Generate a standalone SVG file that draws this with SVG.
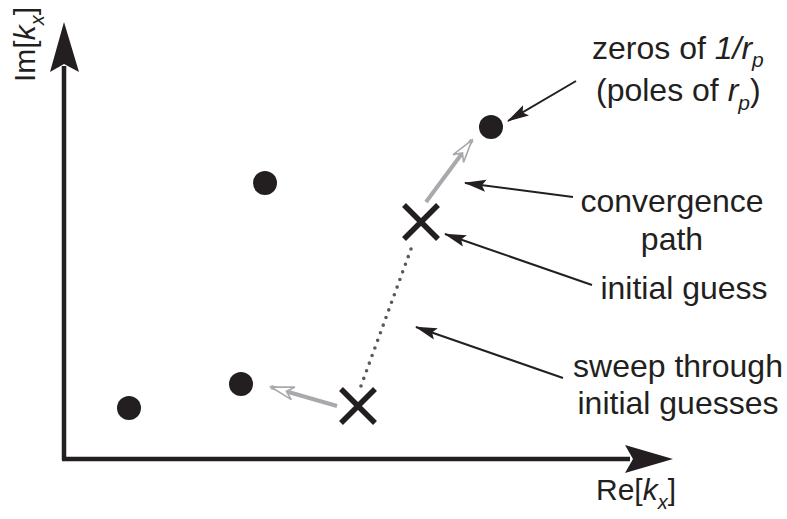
<svg xmlns="http://www.w3.org/2000/svg" width="787" height="519" viewBox="0 0 787 519">
<style>
text{font-family:"Liberation Sans",Arial,Helvetica,sans-serif;fill:#231f20}
.lbl{font-size:32px}
.ax{font-size:30px}
.it{font-style:italic}
.axis{stroke:#231f20;stroke-width:4.5;fill:none}
.ann{stroke:#231f20;stroke-width:2;fill:none}
.conv{stroke:#a7a9ac;stroke-width:4;fill:none}
.xm{stroke:#231f20;stroke-width:5.5;fill:none}
.dot{fill:#231f20}
</style>
<defs>
<marker id="ah" markerUnits="userSpaceOnUse" viewBox="0 0 22 14" refX="21" refY="7" markerWidth="22" markerHeight="14" orient="auto">
<path d="M0,1 L22,7 L0,13 L4,7 Z" fill="#231f20"/>
</marker>
<marker id="gh" markerUnits="userSpaceOnUse" viewBox="0 0 26 16" refX="24" refY="8" markerWidth="26" markerHeight="16" orient="auto">
<path d="M1,1.5 L24,8 L1,14.5 L8,8 Z" fill="#ffffff" stroke="#a7a9ac" stroke-width="1.6"/>
</marker>
</defs>
<g id="axes">
<line class="axis" x1="64" y1="460" x2="64" y2="66"/>
<path d="M64,22 L79,72 L64,64 L50,72 Z" fill="#231f20"/>
<line class="axis" x1="62" y1="459" x2="630" y2="459"/>
<path d="M673,459 L625,445 L633,459 L625,473 Z" fill="#231f20"/>
<text class="ax" transform="translate(35,82) rotate(-90)">Im[<tspan class="it">k</tspan><tspan class="it" font-size="20" dy="9">x</tspan><tspan dy="-9">]</tspan></text>
<text class="ax" x="596" y="500">Re[<tspan class="it">k</tspan><tspan class="it" font-size="20" dy="9">x</tspan><tspan dy="-9">]</tspan></text>
</g>
<g id="poles">
<circle class="dot" cx="491" cy="127" r="12"/>
<circle class="dot" cx="265" cy="183" r="12"/>
<circle class="dot" cx="241" cy="384" r="12"/>
<circle class="dot" cx="129" cy="408" r="12"/>
</g>
<g id="guess1">
<path class="xm" d="M404,205 L438,239 M438,205 L404,239"/>
</g>
<g id="guess2">
<path class="xm" d="M341,389 L375,423 M375,389 L341,423"/>
</g>
<g id="connectors">
<line x1="361" y1="386" x2="411" y2="249" stroke="#58595b" stroke-width="3.6" stroke-linecap="round" stroke-dasharray="0 8.1"/>
<line class="conv" x1="426" y1="202" x2="472" y2="140" marker-end="url(#gh)"/>
<line class="conv" x1="337" y1="406" x2="271" y2="387" marker-end="url(#gh)"/>
<line class="ann" x1="576" y1="81" x2="508" y2="121" marker-end="url(#ah)"/>
<line class="ann" x1="573" y1="197" x2="465" y2="183" marker-end="url(#ah)"/>
<line class="ann" x1="592" y1="285" x2="445" y2="234" marker-end="url(#ah)"/>
<line class="ann" x1="563" y1="378" x2="416" y2="327" marker-end="url(#ah)"/>
</g>
<g id="label-zeros">
<text class="lbl" x="592" y="59">zeros of <tspan class="it">1/r</tspan><tspan class="it" font-size="21" dy="8">p</tspan></text>
<text class="lbl" x="596" y="101">(poles of <tspan class="it">r</tspan><tspan class="it" font-size="21" dy="9">p</tspan><tspan dy="-9">)</tspan></text>
</g>
<g id="label-convergence">
<text class="lbl" x="672" y="212" text-anchor="middle">convergence</text>
<text class="lbl" x="672" y="250" text-anchor="middle">path</text>
</g>
<g id="label-initial">
<text class="lbl" x="684" y="299" text-anchor="middle">initial guess</text>
</g>
<g id="label-sweep">
<text class="lbl" x="678" y="377" text-anchor="middle">sweep through</text>
<text class="lbl" x="678" y="414" text-anchor="middle">initial guesses</text>
</g>
</svg>
